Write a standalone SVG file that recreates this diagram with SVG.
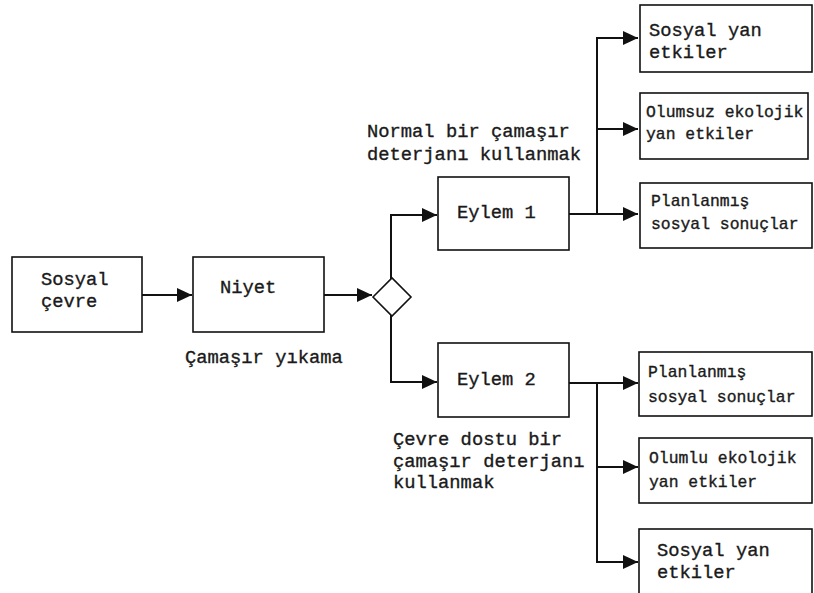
<svg xmlns="http://www.w3.org/2000/svg" width="814" height="593" viewBox="0 0 814 593">
<defs>
<style>
.box{fill:#fff;stroke:#111;stroke-width:1.6}
.t{font-family:"Courier New","Nimbus Mono PS","FreeMono","Liberation Mono",monospace;font-size:18.8px;fill:#1a1a1a;stroke:#1a1a1a;stroke-width:0.35}
.s{font-size:16.4px}
.c{fill:none;stroke:#111;stroke-width:2}
</style>
<marker id="ah" markerUnits="userSpaceOnUse" markerWidth="16" markerHeight="14" refX="15" refY="7" orient="auto">
<path d="M0,0 L15,7 L0,14 Z" fill="#111"/>
</marker>
</defs>
<rect width="814" height="593" fill="#fff"/>
<g id="connectors">
<path class="c" d="M142,295 H192" marker-end="url(#ah)"/>
<path class="c" d="M324,295 H372" marker-end="url(#ah)"/>
<path class="c" d="M391,279 V215 H437" marker-end="url(#ah)"/>
<path class="c" d="M391,315 V382 H437" marker-end="url(#ah)"/>
<path class="c" d="M569,214 H638"  marker-end="url(#ah)"/>
<path class="c" d="M597,214 V38 H638" marker-end="url(#ah)"/>
<path class="c" d="M597,129 H638" marker-end="url(#ah)"/>
<path class="c" d="M569,383 H638" marker-end="url(#ah)"/>
<path class="c" d="M597,383 V562 H638" marker-end="url(#ah)"/>
<path class="c" d="M597,467 H638" marker-end="url(#ah)"/>
</g>
<g id="sosyal-cevre">
<rect class="box" x="12" y="257" width="130" height="75"/>
<text class="t" x="41" y="285">Sosyal</text>
<text class="t" x="41" y="307">çevre</text>
</g>
<g id="niyet">
<rect class="box" x="193" y="257" width="131" height="75"/>
<text class="t" x="220" y="293">Niyet</text>
<text class="t" x="185" y="363">Çamaşır yıkama</text>
</g>
<g id="karar">
<path class="box" d="M373,297 L392,278 L411,297 L392,316 Z"/>
</g>
<g id="eylem1">
<rect class="box" x="438" y="177" width="131" height="73"/>
<text class="t" x="457" y="218">Eylem 1</text>
<text class="t" x="367" y="137">Normal bir çamaşır</text>
<text class="t" x="367" y="160">deterjanı kullanmak</text>
</g>
<g id="eylem2">
<rect class="box" x="438" y="343" width="131" height="74"/>
<text class="t" x="457" y="385">Eylem 2</text>
<text class="t" x="393" y="445">Çevre dostu bir</text>
<text class="t" x="393" y="467">çamaşır deterjanı</text>
<text class="t" x="393" y="488">kullanmak</text>
</g>
<g id="sonuc1">
<rect class="box" x="640" y="5" width="172" height="67"/>
<text class="t" x="649" y="36">Sosyal yan</text>
<text class="t" x="649" y="58">etkiler</text>
</g>
<g id="sonuc2">
<rect class="box" x="640" y="93" width="168" height="66"/>
<text class="t s" x="646" y="117">Olumsuz ekolojik</text>
<text class="t s" x="646" y="139">yan etkiler</text>
</g>
<g id="sonuc3">
<rect class="box" x="640" y="183" width="172" height="65"/>
<text class="t s" x="651" y="206">Planlanmış</text>
<text class="t s" x="651" y="229">sosyal sonuçlar</text>
</g>
<g id="sonuc4">
<rect class="box" x="639" y="352" width="173" height="64"/>
<text class="t s" x="648" y="377">Planlanmış</text>
<text class="t s" x="648" y="402">sosyal sonuçlar</text>
</g>
<g id="sonuc5">
<rect class="box" x="639" y="438" width="173" height="65"/>
<text class="t s" x="649" y="463">Olumlu ekolojik</text>
<text class="t s" x="649" y="487">yan etkiler</text>
</g>
<g id="sonuc6">
<rect class="box" x="639" y="529" width="173" height="80"/>
<text class="t" x="657" y="556">Sosyal yan</text>
<text class="t" x="657" y="578">etkiler</text>
</g>
</svg>
